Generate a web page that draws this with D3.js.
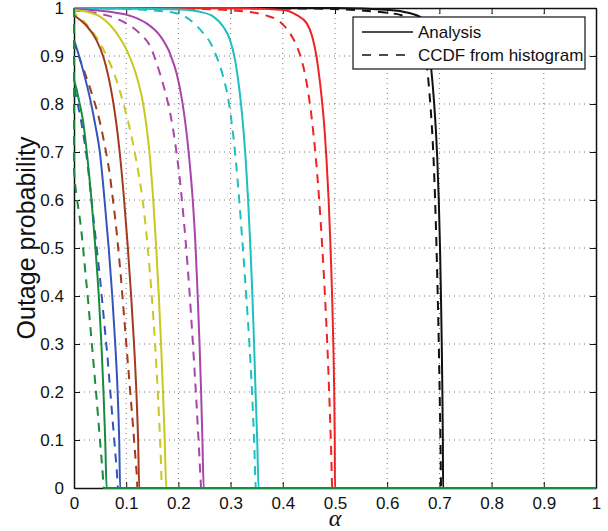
<!DOCTYPE html>
<html><head><meta charset="utf-8">
<script src="https://cdn.jsdelivr.net/npm/d3@7"></script>
<style>body{margin:0;background:#fff}svg{display:block}</style>
</head><body>
<script>
// ---- data (alpha, outage probability) ----
const xTicks = [0,0.1,0.2,0.3,0.4,0.5,0.6,0.7,0.8,0.9,1];
const yTicks = [0,0.1,0.2,0.3,0.4,0.5,0.6,0.7,0.8,0.9,1];
const legendLabels = ["Analysis","CCDF from histogram"];
const curveColors = ["#111111","#ee2424","#1fbfc0","#a945a9","#c9c81f","#a33a1e","#3355bb","#178c3c"];

const analysisBlack = [[0,1],[0.5,1],[0.605,0.996],[0.64,0.99],[0.666,0.979],[0.676,0.94],[0.6845,0.871],[0.6895,0.808],[0.6935,0.74],[0.6958,0.69],[0.6988,0.6],[0.7012,0.5],[0.703,0.4],[0.7045,0.3],[0.7057,0.2],[0.7066,0.1],[0.7071,0],[1,0]];
const histBlack = [[0,1],[0.45,0.999],[0.6,0.99],[0.64,0.98],[0.665,0.94],[0.677,0.871],[0.6805,0.829],[0.6833,0.79],[0.6868,0.73],[0.6898,0.66],[0.6918,0.6],[0.6945,0.5],[0.6968,0.4],[0.6988,0.3],[0.7005,0.2],[0.702,0.1],[0.7033,0],[1,0]];
const analysisRed = [[0,1],[0.3,1],[0.401,0.996],[0.427,0.985],[0.446,0.968],[0.4565,0.94],[0.4645,0.899],[0.4707,0.85],[0.4762,0.794],[0.4805,0.739],[0.4838,0.683],[0.4878,0.6],[0.4915,0.5],[0.4945,0.4],[0.4968,0.3],[0.4985,0.2],[0.4995,0.1],[0.5,0],[1,0]];
const histRed = [[0,1],[0.2,0.999],[0.325,0.993],[0.366,0.985],[0.395,0.971],[0.414,0.947],[0.427,0.92],[0.436,0.892],[0.4435,0.857],[0.45,0.815],[0.455,0.774],[0.4593,0.732],[0.4625,0.697],[0.4697,0.6],[0.4757,0.5],[0.4808,0.4],[0.4852,0.3],[0.4888,0.2],[0.492,0.1],[0.495,0],[1,0]];
const analysisCyan = [[0,1],[0.1,0.999],[0.203,0.997],[0.241,0.992],[0.267,0.982],[0.286,0.961],[0.299,0.933],[0.3085,0.892],[0.3145,0.85],[0.3205,0.794],[0.3252,0.739],[0.329,0.683],[0.3335,0.6],[0.338,0.5],[0.3418,0.4],[0.345,0.3],[0.3478,0.2],[0.351,0.1],[0.3536,0],[1,0]];
const histCyan = [[0,1],[0.1,0.998],[0.15,0.995],[0.2,0.988],[0.235,0.963],[0.248,0.947],[0.261,0.928],[0.273,0.899],[0.285,0.86],[0.294,0.819],[0.3,0.779],[0.305,0.735],[0.309,0.694],[0.3165,0.6],[0.3235,0.5],[0.33,0.4],[0.336,0.3],[0.341,0.2],[0.345,0.1],[0.3485,0],[1,0]];
const analysisMagenta = [[0,0.998],[0.069,0.992],[0.107,0.984],[0.139,0.968],[0.165,0.942],[0.184,0.905],[0.197,0.862],[0.207,0.808],[0.2145,0.75],[0.2205,0.69],[0.2275,0.6],[0.233,0.5],[0.237,0.4],[0.2405,0.3],[0.2435,0.2],[0.246,0.1],[0.2485,0],[1,0]];
const histMagenta = [[0,1],[0,0.995],[0.04,0.99],[0.095,0.971],[0.126,0.947],[0.146,0.92],[0.1645,0.864],[0.1755,0.822],[0.1855,0.774],[0.193,0.725],[0.1975,0.69],[0.2035,0.635],[0.2085,0.58],[0.2132,0.523],[0.2172,0.469],[0.221,0.413],[0.2245,0.356],[0.2277,0.302],[0.2312,0.24],[0.2343,0.183],[0.2372,0.127],[0.2399,0.073],[0.2429,0.01],[0.2435,0],[1,0]];
const analysisYellow = [[0,0.996],[0.025,0.992],[0.05,0.982],[0.082,0.947],[0.104,0.905],[0.122,0.85],[0.1325,0.8],[0.1393,0.75],[0.1445,0.7],[0.1518,0.6],[0.1575,0.5],[0.1625,0.4],[0.1668,0.3],[0.1705,0.2],[0.1738,0.1],[0.1768,0],[1,0]];
const histYellow = [[0,1],[0,0.99],[0.025,0.965],[0.058,0.91],[0.078,0.86],[0.095,0.8],[0.1055,0.755],[0.1153,0.705],[0.1245,0.65],[0.1315,0.6],[0.1368,0.55],[0.1413,0.5],[0.1453,0.45],[0.149,0.4],[0.1523,0.35],[0.1553,0.3],[0.158,0.25],[0.1605,0.2],[0.1628,0.15],[0.1649,0.1],[0.1667,0.05],[0.1683,0],[1,0]];
const analysisBrown = [[0,0.985],[0.012,0.975],[0.024,0.963],[0.043,0.933],[0.056,0.899],[0.066,0.857],[0.0745,0.808],[0.081,0.76],[0.0875,0.7],[0.096,0.6],[0.1025,0.51],[0.1095,0.4],[0.115,0.3],[0.1195,0.2],[0.1228,0.1],[0.125,0],[1,0]];
const histBrown = [[0,1],[0,0.93],[0.005,0.913],[0.021,0.864],[0.036,0.815],[0.048,0.77],[0.056,0.73],[0.063,0.69],[0.069,0.65],[0.0735,0.61],[0.078,0.57],[0.082,0.53],[0.0855,0.49],[0.089,0.45],[0.092,0.41],[0.095,0.37],[0.098,0.33],[0.101,0.29],[0.104,0.25],[0.107,0.21],[0.11,0.17],[0.113,0.13],[0.1158,0.09],[0.1186,0.05],[0.121,0.01],[0.1213,0],[1,0]];
const analysisBlue = [[0,0.933],[0.01,0.899],[0.021,0.855],[0.032,0.805],[0.041,0.755],[0.0495,0.7],[0.0585,0.6],[0.0665,0.5],[0.0733,0.4],[0.079,0.3],[0.0836,0.2],[0.0866,0.1],[0.0884,0],[1,0]];
const histBlue = [[0,1],[0,0.84],[0.005,0.81],[0.01,0.785],[0.016,0.75],[0.021,0.715],[0.026,0.675],[0.03,0.635],[0.034,0.595],[0.038,0.555],[0.042,0.515],[0.046,0.475],[0.05,0.435],[0.0535,0.395],[0.057,0.355],[0.0605,0.315],[0.064,0.275],[0.067,0.235],[0.07,0.195],[0.073,0.155],[0.076,0.115],[0.079,0.075],[0.082,0.035],[0.0845,0],[1,0]];
const analysisGreen = [[0,0.85],[0.005,0.83],[0.01,0.805],[0.017,0.767],[0.0245,0.7],[0.0335,0.6],[0.041,0.5],[0.0475,0.4],[0.0525,0.3],[0.0565,0.2],[0.0598,0.1],[0.0625,0],[1,0]];
const histGreen = [[0,1],[0,0.66],[0.003,0.625],[0.008,0.585],[0.0125,0.55],[0.0165,0.51],[0.02,0.47],[0.0235,0.43],[0.027,0.39],[0.0302,0.35],[0.0334,0.31],[0.0366,0.27],[0.0398,0.23],[0.043,0.19],[0.046,0.15],[0.049,0.11],[0.052,0.07],[0.055,0.03],[0.057,0],[1,0]];

const analysisCurves = [analysisBlack,analysisRed,analysisCyan,analysisMagenta,analysisYellow,analysisBrown,analysisBlue,analysisGreen];
const histCurves = [histBlack,histRed,histCyan,histMagenta,histYellow,histBrown,histBlue,histGreen];

// ---- layout ----
const W = 608, H = 531;
const L = 74, R = 596, T = 8, B = 488;
const x = d3.scaleLinear().domain([0,1]).range([L,R]);
const y = d3.scaleLinear().domain([0,1]).range([B,T]);
const FONT = "'Liberation Sans', Arial, Helvetica, sans-serif";

const svg = d3.select("body").append("svg").attr("width",W).attr("height",H);
svg.append("rect").attr("width",W).attr("height",H).attr("fill","#fff");

// grid
const grid = svg.append("g").attr("stroke","#777").attr("stroke-width",1).attr("stroke-dasharray","1,4");
xTicks.filter(t=>t>0&&t<1).forEach(t=>grid.append("line").attr("x1",x(t)).attr("x2",x(t)).attr("y1",T).attr("y2",B));
yTicks.filter(t=>t>0&&t<1).forEach(t=>grid.append("line").attr("x1",L).attr("x2",R).attr("y1",y(t)).attr("y2",y(t)));

// axes (box with inward ticks on all sides)
const tickLen = 6;
const axB = svg.append("g").attr("transform",`translate(0,${B})`).call(d3.axisBottom(x).tickValues(xTicks).tickSizeInner(-tickLen).tickSizeOuter(0).tickPadding(9).tickFormat(d3.format("~g")));
const axL = svg.append("g").attr("transform",`translate(${L},0)`).call(d3.axisLeft(y).tickValues(yTicks).tickSizeInner(-tickLen).tickSizeOuter(0).tickPadding(10).tickFormat(d3.format("~g")));
const axT = svg.append("g").attr("transform",`translate(0,${T})`).call(d3.axisTop(x).tickValues(xTicks).tickSizeInner(-tickLen).tickSizeOuter(0).tickFormat(""));
const axR = svg.append("g").attr("transform",`translate(${R},0)`).call(d3.axisRight(y).tickValues(yTicks).tickSizeInner(-tickLen).tickSizeOuter(0).tickFormat(""));
[axB,axL,axT,axR].forEach(a=>{
  a.select(".domain").attr("stroke","#111").attr("stroke-width",1.5);
  a.selectAll(".tick line").attr("stroke","#111").attr("stroke-width",1);
  a.selectAll("text").attr("font-family",FONT).attr("font-size",17).attr("fill","#111");
});
axB.selectAll("text").attr("dy","0.71em");

// curves: vertical start segment (at alpha = 0) straight, remainder monotone-smoothed
const smooth = d3.line().x(d=>x(d[0])).y(d=>y(d[1])).curve(d3.curveMonotoneX);
function curvePath(data){
  let k = 0;
  while (k+1 < data.length && data[k+1][0] === data[0][0]) k++;
  const rest = data.slice(k);
  let d = smooth(rest);
  if (k > 0) {
    const head = data.slice(0, k+1);
    const hd = "M" + head.map(p => x(p[0]) + "," + y(p[1])).join("L");
    d = hd + d.replace(/^M[^A-Za-z]*/, "");
  }
  return d;
}
const curves = svg.append("g").attr("fill","none").attr("stroke-width",2).attr("stroke-linejoin","round");
curveColors.forEach((c,i)=>{
  curves.append("path").attr("d",curvePath(histCurves[i])).attr("stroke",c).attr("stroke-dasharray","9,7");
  curves.append("path").attr("d",curvePath(analysisCurves[i])).attr("stroke",c);
});

// axis labels
svg.append("text").attr("x",x(0.5)).attr("y",526).attr("text-anchor","middle")
  .attr("font-family","'Liberation Serif','Times New Roman',serif").attr("font-style","italic")
  .attr("font-size",24).attr("fill","#111").text("α");
svg.append("text").attr("transform","translate(35,238) rotate(-90)").attr("text-anchor","middle")
  .attr("font-family",FONT).attr("font-size",25).attr("fill","#111").text("Outage probability");

// legend
const lg = svg.append("g");
lg.append("rect").attr("x",353).attr("y",17).attr("width",232).attr("height",52).attr("fill","#fff").attr("stroke","#111").attr("stroke-width",1.2);
const legY = [32,55];
legendLabels.forEach((lab,i)=>{
  lg.append("line").attr("x1",362).attr("x2",413).attr("y1",legY[i]).attr("y2",legY[i]).attr("stroke","#111").attr("stroke-width",1.3)
    .attr("stroke-dasharray", i===1 ? "9,8" : null);
  lg.append("text").attr("x",418).attr("y",legY[i]).attr("dy","0.35em").attr("font-family",FONT).attr("font-size",17).attr("fill","#111").text(lab);
});
</script>
</body></html>
